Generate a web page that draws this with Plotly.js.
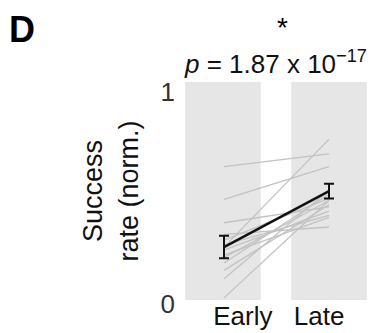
<!DOCTYPE html>
<html>
<head>
<meta charset="utf-8">
<script src="https://cdn.plot.ly/plotly-3.0.1.min.js"></script>
<style>html,body{margin:0;padding:0;background:#fff;}#chart{width:380px;height:333px;}</style>
</head>
<body>
<div id="chart"></div>
<script>
// ---- data ----
var conditions = ['Early', 'Late'];
var earlyVals = [0.63, 0.475, 0.365, 0.25, 0.01, 0.31, 0.283, 0.236, 0.212, 0.175, 0.14, 0.26, 0.10, 0.20];
var lateVals  = [0.69, 0.63, 0.44, 0.76, 0.47, 0.345, 0.48, 0.42, 0.39, 0.50, 0.45, 0.40, 0.52, 0.47];
var meanVals = [0.25, 0.514];
var semVals  = [0.053, 0.035];
var yTickVals = [0, 1];
var yTickText = ['0', '1'];
var panelLabel = 'D';
var sigMark = '*';
var pText = '<i>p</i> = 1.87 x 10<sup>\u221217</sup>';
var yTitle = 'Success<br>rate (norm.)';

var FONT = 'Liberation Sans, Arial, Helvetica, sans-serif';
var xIdx = conditions.map(function (c, i) { return i; });
var traces = [];
for (var i = 0; i < earlyVals.length; i++) {
  traces.push({
    type: 'scatter', mode: 'lines',
    x: xIdx, y: [earlyVals[i], lateVals[i]],
    line: {color: '#c2c2c2', width: 1.3},
    hoverinfo: 'skip', showlegend: false
  });
}
traces.push({
  type: 'scatter', mode: 'lines',
  x: xIdx, y: meanVals,
  line: {color: '#111', width: 2.5},
  error_y: {type: 'data', array: semVals, visible: true, color: '#111', thickness: 2, width: 5},
  showlegend: false
});

var layout = {
  width: 380, height: 333,
  margin: {l: 182, r: 9, t: 82, b: 33},
  paper_bgcolor: '#fff', plot_bgcolor: '#fff',
  font: {family: FONT, color: '#111'},
  showlegend: false,
  xaxis: {
    range: [-0.4, 1.4],
    tickmode: 'array', tickvals: [0.18, 0.905], ticktext: conditions,
    showgrid: false, zeroline: false, showline: false, ticks: '',
    tickfont: {size: 26, color: '#111'}, ticklabelstandoff: -2
  },
  yaxis: {
    range: [0, 1.03], tickvals: yTickVals, ticktext: yTickText,
    showgrid: false, zeroline: false, showline: false, ticks: '',
    tickfont: {size: 26, color: '#333'}, ticklabelstandoff: 6, ticklabelshift: 4,
    title: {text: yTitle, font: {size: 27, color: '#111'}, standoff: 14}
  },
  shapes: [
    {type: 'rect', xref: 'x', yref: 'y', x0: -0.37, x1: 0.35, y0: 0, y1: 1.03, fillcolor: '#e6e6e6', line: {width: 0}, layer: 'below'},
    {type: 'rect', xref: 'x', yref: 'y', x0: 0.64, x1: 1.36, y0: 0, y1: 1.03, fillcolor: '#e6e6e6', line: {width: 0}, layer: 'below'}
  ],
  annotations: [
    {text: '<b>' + panelLabel + '</b>', xref: 'paper', yref: 'paper', x: -0.849, y: 1.24, xanchor: 'center', yanchor: 'middle', showarrow: false, font: {size: 36, color: '#000'}},
    {text: sigMark, xref: 'paper', yref: 'paper', x: 0.534, y: 1.25, xanchor: 'center', yanchor: 'middle', showarrow: false, font: {size: 28, color: '#000'}},
    {text: pText, xref: 'paper', yref: 'paper', x: 0.497, y: 1.09, xanchor: 'center', yanchor: 'middle', showarrow: false, font: {size: 26, color: '#111'}}
  ]
};
Plotly.newPlot('chart', traces, layout, {displayModeBar: false, staticPlot: true});
</script>
</body>
</html>
